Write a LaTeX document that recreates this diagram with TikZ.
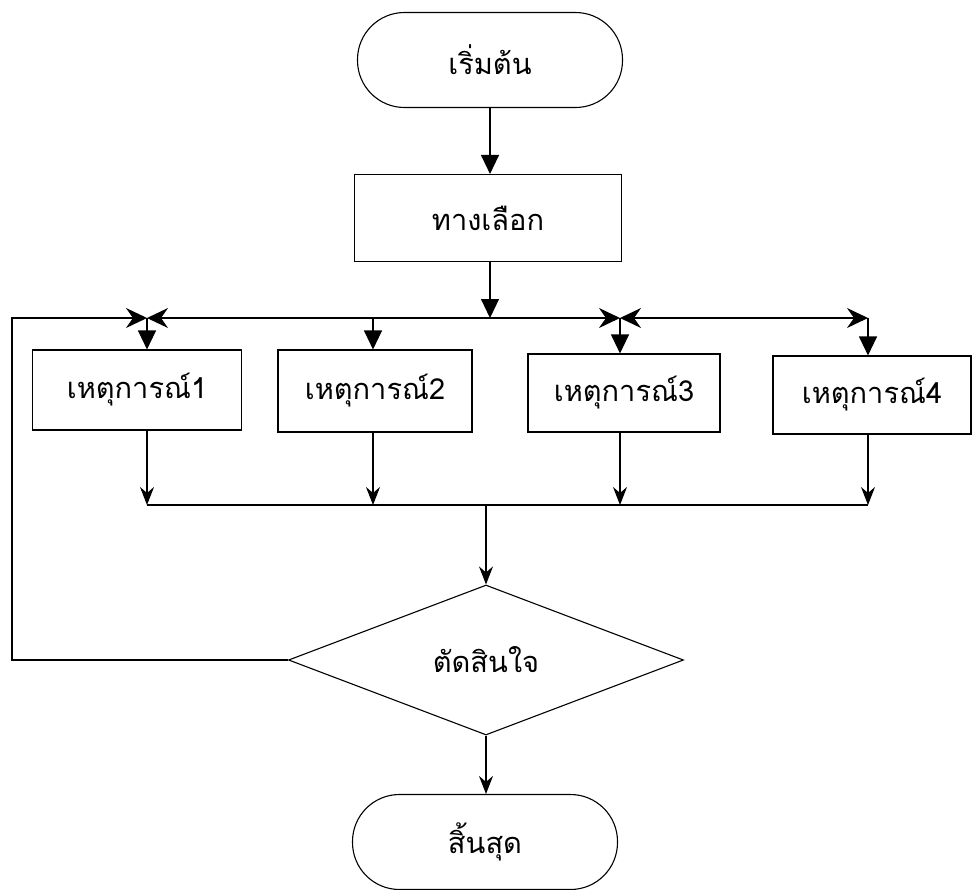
\documentclass[tikz,border=0pt]{standalone}
\usepackage{fontspec}
\newfontfamily\thai[Script=Thai]{Loma}
\usetikzlibrary{arrows.meta,shapes.geometric}
\begin{document}
\begin{tikzpicture}[x=1pt,y=-1pt,
  every node/.style={font=\thai\fontsize{29}{34}\selectfont},
  term/.style={draw,line width=1.1pt,rounded corners=47pt,minimum width=265pt,minimum height=95pt,inner sep=0pt},
  box/.style={draw,line width=1.1pt,inner sep=0pt},
  dia/.style={draw,line width=1.1pt,diamond,aspect=2.63,minimum width=395pt,minimum height=150pt,inner sep=0pt},
  conn/.style={line width=1.1pt},
  st/.style={-{Stealth[length=21pt,width=20pt,inset=7pt]}},
  sb/.style={-{Stealth[length=18pt,width=14pt,inset=6pt]}},
  tri/.style={-{Triangle[length=19pt,width=18pt]}}
]
\useasboundingbox (0,0) rectangle (974,889);
\node[term] (start) at (490,60) {เริ่มต้น};
\node[box,minimum width=267pt,minimum height=87pt] (choice) at (488,218) {ทางเลือก};
\node[box,minimum width=209pt,minimum height=80pt] (e1) at (137,390) {เหตุการณ์1};
\node[box,minimum width=194pt,minimum height=82pt] (e2) at (375,391) {เหตุการณ์2};
\node[box,minimum width=192pt,minimum height=78pt] (e3) at (624,393) {เหตุการณ์3};
\node[box,minimum width=198pt,minimum height=78pt] (e4) at (872,395) {เหตุการณ์4};
\node[dia] (dec) at (486,660) {ตัดสินใจ};
\node[term] (end) at (485,842) {สิ้นสุด};

\coordinate (jL) at (12,318);
\coordinate (jm) at (490,318);
\coordinate (j1) at (147,318);
\coordinate (j2) at (373,318);
\coordinate (j3) at (620,318);
\coordinate (j4) at (868,318);
\coordinate (m1) at (147,505);
\coordinate (m2) at (373,505);
\coordinate (m3) at (620,505);
\coordinate (m4) at (868,505);
\coordinate (mm) at (486,505);

\draw[conn,tri] (start.south -| jm) -- (choice.north -| jm);
\draw[conn,tri] (choice.south -| jm) -- (jm);
\draw[conn,st] (dec.west) -| (jL) -- (j1);
\draw[conn,st] (jm) -- (j1);
\draw[conn,st] (jm) -- (j3);
\draw[conn,{Stealth[length=21pt,width=20pt,inset=7pt]}-{Stealth[length=21pt,width=20pt,inset=7pt]}] (j3) -- (j4);
\draw[conn,tri] (j1) -- (j1 |- e1.north);
\draw[conn,tri] (j2) -- (j2 |- e2.north);
\draw[conn,tri] (j3) -- (j3 |- e3.north);
\draw[conn,tri] (j4) -- (j4 |- e4.north);
\draw[conn,sb] (m1 |- e1.south) -- (m1);
\draw[conn,sb] (m2 |- e2.south) -- (m2);
\draw[conn,sb] (m3 |- e3.south) -- (m3);
\draw[conn,sb] (m4 |- e4.south) -- (m4);
\draw[conn] (m1) -- (m4);
\draw[conn,sb] (mm) -- (dec.north);
\draw[conn,sb] (dec.south) -- (dec.south |- end.north);
\end{tikzpicture}
\end{document}
